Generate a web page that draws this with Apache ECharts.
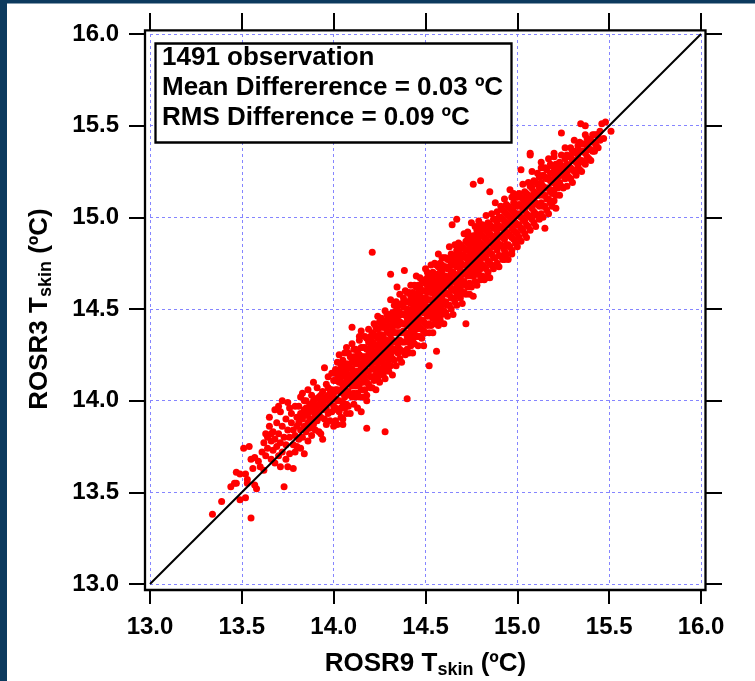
<!DOCTYPE html>
<html><head><meta charset="utf-8">
<script src="https://cdn.jsdelivr.net/npm/echarts/dist/echarts.min.js"></script>
<style>html,body{margin:0;padding:0;background:#fff}#c{width:755px;height:681px}</style>
</head><body><div id="c"></div><script>
const FONT = '"Liberation Sans", Arial, Helvetica, sans-serif';

// axis ticks (both axes)
const tickValues = [13.0, 13.5, 14.0, 14.5, 15.0, 15.5, 16.0];
const oneToOne = [13.0, 16.0];
const infoLines = ['1491 observation', 'Mean Differerence = 0.03 \u00baC', 'RMS Difference = 0.09 \u00baC'];

// [ROSR9, ROSR3] pairs, low end of the cloud
const obsLow = [[13.34,13.38],[13.39,13.45],[13.46,13.55],[13.47,13.55],[13.49,13.46],[13.52,13.47],[13.55,13.36],[13.49,13.60],[13.52,13.60],[13.53,13.57],[13.53,13.55],[13.57,13.54],[13.58,13.52],[13.51,13.74],[13.54,13.75],[13.55,13.68],[13.57,13.69],[13.59,13.67],[13.60,13.64],[13.44,13.53],[13.47,13.61],[13.56,13.63]];
const obs1360 = [[13.62,13.62],[13.61,13.72],[13.62,13.77],[13.63,13.70],[13.64,13.80],[13.65,13.91],[13.65,13.86],[13.64,13.74],[13.66,13.68],[13.66,13.78],[13.67,13.83],[13.67,13.73],[13.68,13.66],[13.68,13.79],[13.69,13.88],[13.69,13.75],[13.70,13.70],[13.70,13.82],[13.71,13.77],[13.71,13.94],[13.72,13.86],[13.72,13.72],[13.73,13.53],[13.73,13.80],[13.74,13.90],[13.74,13.76],[13.75,13.64],[13.75,13.84],[13.75,13.99],[13.76,13.71],[13.76,13.80],[13.77,13.88],[13.77,13.93],[13.78,13.63],[13.78,13.76],[13.78,13.84],[13.79,13.97],[13.79,13.72],[13.80,13.75],[13.80,13.86],[13.80,13.91],[13.70,13.97],[13.72,14.00],[13.68,13.95],[13.66,13.82],[13.63,13.82],[13.74,13.68],[13.76,13.96],[13.71,13.64],[13.79,13.81]];
const obs1380 = [[13.81,13.79],[13.81,13.88],[13.81,13.97],[13.82,13.84],[13.82,13.74],[13.82,14.02],[13.83,14.04],[13.83,13.90],[13.83,13.80],[13.84,13.86],[13.84,13.95],[13.84,13.71],[13.85,13.83],[13.85,13.92],[13.85,14.00],[13.86,13.88],[13.86,13.78],[13.86,14.06],[13.87,13.94],[13.87,13.85],[13.87,13.98],[13.88,13.90],[13.88,13.81],[13.88,14.03],[13.89,14.10],[13.89,13.87],[13.89,13.95],[13.90,13.84],[13.90,13.92],[13.90,14.01],[13.91,13.97],[13.91,13.89],[13.91,14.07],[13.92,13.83],[13.92,13.94],[13.92,14.02],[13.93,13.82],[13.93,13.91],[13.93,13.99],[13.94,13.79],[13.94,14.05],[13.94,13.95],[13.95,14.18],[13.95,13.90],[13.95,14.00],[13.96,13.87],[13.96,13.96],[13.96,14.09],[13.97,13.93],[13.97,14.03],[13.97,14.13],[13.98,13.89],[13.98,13.99],[13.98,14.06],[13.99,13.94],[13.99,14.01],[13.99,14.15],[14.00,13.86],[14.00,13.97],[14.00,14.04],[14.00,14.11],[13.82,13.93],[13.84,14.00],[13.86,13.93],[13.88,13.96],[13.90,13.97],[13.92,13.98],[13.94,14.00],[13.96,14.02],[13.98,14.03],[13.85,13.96],[13.89,14.00],[13.93,14.03],[13.97,14.07],[13.87,13.90],[13.91,13.93],[13.95,13.97],[13.99,14.06]];
// scattered points away from the main band
const obsOutliers = [[14.21,14.81],[14.31,14.69],[14.385,14.71],[14.345,14.62],[14.10,14.40],[14.14,14.35],[14.28,13.83],[14.40,14.01],[14.52,14.19],[14.56,14.27],[14.72,14.42],[14.645,14.96],[14.67,14.99],[14.73,14.92],[14.76,15.18],[14.80,15.20],[14.85,15.14],[14.83,14.67],[14.93,14.77],[14.97,14.80],[15.02,15.26],[15.07,15.34],[15.07,15.35],[15.13,15.30],[15.15,14.94],[15.21,15.05],[15.20,15.35],[15.24,15.46],[15.345,15.51],[15.37,15.50],[15.46,15.51],[15.48,15.52],[15.51,15.47],[14.18,13.85],[14.15,13.94],[14.18,14.00],[14.05,13.90],[14.07,14.29]];

// [ROSR9, [ROSR3 - ROSR9 ...]] : offsets of the points from the 1:1 line
const diff1400 = [[14.01,[-0.12,-0.05,0.00,0.05,0.10,0.16]],[14.02,[-0.15,-0.07,-0.02,0.04,0.12,0.19]],[14.03,[-0.09,-0.03,0.02,0.07,0.13,0.22]],[14.04,[-0.13,-0.08,0.01,0.06,0.09,0.15]],[14.05,[-0.18,-0.06,-0.01,0.03,0.11,0.17]],[14.06,[-0.10,-0.04,0.03,0.08,0.14,0.20]],[14.07,[-0.14,-0.09,-0.02,0.05,0.10,0.13]],[14.08,[-0.11,-0.03,0.02,0.06,0.12,0.18]],[14.09,[-0.16,-0.06,0.00,0.04,0.09,0.15]],[14.10,[-0.08,-0.02,0.04,0.07,0.11,0.21]],[14.11,[-0.13,-0.07,-0.01,0.05,0.13,0.17]],[14.12,[-0.10,-0.04,0.01,0.08,0.12,0.16]],[14.13,[-0.17,-0.09,-0.03,0.03,0.10,0.14]],[14.14,[-0.12,-0.05,0.02,0.06,0.11,0.19]],[14.15,[-0.09,-0.02,0.03,0.09,0.14,0.23]],[14.16,[-0.14,-0.06,0.00,0.05,0.08,0.13]],[14.17,[-0.11,-0.04,0.01,0.07,0.12,0.18]],[14.18,[-0.15,-0.08,-0.02,0.04,0.10,0.16]],[14.19,[-0.10,-0.03,0.02,0.06,0.13,0.20]],[14.20,[-0.13,-0.07,0.00,0.05,0.09,0.15]]];
const diff1420 = [[14.21,[-0.14,-0.08,-0.03,0.02,0.06,0.11,0.16]],[14.22,[-0.11,-0.05,0.00,0.04,0.09,0.14,0.20]],[14.23,[-0.17,-0.09,-0.02,0.03,0.07,0.12,0.17]],[14.24,[-0.12,-0.06,-0.01,0.05,0.10,0.15,0.22]],[14.25,[-0.15,-0.10,-0.04,0.01,0.06,0.11,0.18]],[14.26,[-0.09,-0.04,0.02,0.06,0.10,0.14,0.19]],[14.27,[-0.13,-0.07,-0.02,0.03,0.08,0.13,0.16]],[14.28,[-0.16,-0.11,-0.05,0.00,0.05,0.12,0.21]],[14.29,[-0.10,-0.05,0.01,0.04,0.09,0.15,0.18]],[14.30,[-0.14,-0.08,-0.03,0.02,0.07,0.11,0.17]],[14.31,[-0.12,-0.06,0.00,0.05,0.10,0.14,0.24]],[14.32,[-0.18,-0.09,-0.04,0.01,0.06,0.12,0.16]],[14.33,[-0.11,-0.05,-0.01,0.04,0.08,0.13,0.19]],[14.34,[-0.15,-0.07,-0.02,0.03,0.09,0.15,0.20]],[14.35,[-0.09,-0.04,0.02,0.06,0.11,0.14,0.17]],[14.36,[-0.13,-0.08,-0.03,0.01,0.07,0.12,0.22]],[14.37,[-0.16,-0.10,-0.05,0.00,0.05,0.10,0.16]],[14.38,[-0.11,-0.06,0.00,0.04,0.09,0.13,0.18]],[14.39,[-0.14,-0.07,-0.02,0.03,0.08,0.15,0.21]],[14.40,[-0.12,-0.05,0.01,0.05,0.10,0.14,0.19]]];
const diff1440 = [[14.41,[-0.15,-0.09,-0.04,0.00,0.04,0.08,0.13,0.18]],[14.42,[-0.12,-0.07,-0.02,0.02,0.06,0.11,0.15,0.21]],[14.43,[-0.17,-0.10,-0.05,-0.01,0.03,0.07,0.12,0.16]],[14.44,[-0.13,-0.08,-0.03,0.01,0.05,0.10,0.14,0.19]],[14.45,[-0.10,-0.06,-0.01,0.03,0.07,0.12,0.17,0.23]],[14.46,[-0.16,-0.11,-0.05,0.00,0.04,0.09,0.13,0.17]],[14.47,[-0.12,-0.07,-0.03,0.02,0.06,0.10,0.15,0.20]],[14.48,[-0.14,-0.09,-0.04,0.01,0.05,0.08,0.12,0.18]],[14.49,[-0.19,-0.11,-0.06,-0.01,0.03,0.07,0.11,0.16]],[14.50,[-0.13,-0.08,-0.02,0.02,0.06,0.10,0.14,0.22]],[14.51,[-0.10,-0.05,0.00,0.04,0.08,0.12,0.16,0.19]],[14.52,[-0.15,-0.10,-0.05,-0.01,0.03,0.09,0.13,0.17]],[14.53,[-0.12,-0.07,-0.03,0.02,0.06,0.11,0.15,0.21]],[14.54,[-0.17,-0.09,-0.04,0.00,0.05,0.08,0.12,0.16]],[14.55,[-0.13,-0.08,-0.02,0.03,0.07,0.10,0.14,0.20]],[14.56,[-0.11,-0.06,-0.01,0.01,0.04,0.09,0.13,0.18]],[14.57,[-0.16,-0.10,-0.05,0.00,0.05,0.11,0.16,0.23]],[14.58,[-0.14,-0.08,-0.03,0.02,0.06,0.10,0.14,0.17]],[14.59,[-0.12,-0.07,-0.02,0.03,0.07,0.12,0.15,0.19]],[14.60,[-0.18,-0.11,-0.06,-0.01,0.04,0.08,0.13,0.18]]];
const diff1460 = [[14.61,[-0.13,-0.07,-0.02,0.03,0.07,0.12,0.17]],[14.62,[-0.16,-0.10,-0.04,0.01,0.05,0.10,0.15]],[14.63,[-0.11,-0.05,0.00,0.04,0.09,0.14,0.21]],[14.64,[-0.14,-0.08,-0.03,0.02,0.06,0.11,0.16]],[14.65,[-0.18,-0.09,-0.04,0.00,0.05,0.09,0.13]],[14.66,[-0.12,-0.06,-0.01,0.03,0.08,0.13,0.19]],[14.67,[-0.15,-0.10,-0.05,0.01,0.06,0.10,0.15]],[14.68,[-0.10,-0.04,0.00,0.05,0.09,0.14,0.18]],[14.69,[-0.13,-0.08,-0.02,0.02,0.07,0.11,0.16]],[14.70,[-0.17,-0.11,-0.06,-0.01,0.04,0.09,0.14]],[14.71,[-0.12,-0.06,-0.01,0.03,0.08,0.12,0.20]],[14.72,[-0.14,-0.09,-0.03,0.02,0.06,0.10,0.15]],[14.73,[-0.11,-0.05,0.00,0.04,0.09,0.13,0.17]],[14.74,[-0.16,-0.10,-0.04,0.01,0.05,0.11,0.16]],[14.75,[-0.13,-0.07,-0.02,0.03,0.07,0.12,0.22]],[14.76,[-0.19,-0.08,-0.03,0.02,0.06,0.10,0.14]],[14.77,[-0.12,-0.06,-0.01,0.04,0.08,0.13,0.18]],[14.78,[-0.15,-0.09,-0.04,0.00,0.05,0.09,0.15]],[14.79,[-0.10,-0.05,0.01,0.05,0.10,0.14,0.19]],[14.80,[-0.14,-0.08,-0.03,0.02,0.06,0.11,0.16]]];
const diff1480 = [[14.81,[-0.13,-0.07,-0.01,0.04,0.09,0.15]],[14.82,[-0.16,-0.09,-0.03,0.02,0.07,0.12]],[14.83,[-0.11,-0.05,0.00,0.05,0.10,0.18]],[14.84,[-0.14,-0.08,-0.02,0.03,0.08,0.13]],[14.85,[-0.18,-0.10,-0.04,0.01,0.06,0.11]],[14.86,[-0.12,-0.06,0.00,0.04,0.09,0.16]],[14.87,[-0.15,-0.09,-0.03,0.02,0.07,0.12]],[14.88,[-0.10,-0.04,0.01,0.06,0.11,0.20]],[14.89,[-0.14,-0.07,-0.02,0.03,0.08,0.14]],[14.90,[-0.17,-0.11,-0.05,0.00,0.05,0.10]],[14.91,[-0.12,-0.06,-0.01,0.04,0.09,0.15]],[14.92,[-0.15,-0.08,-0.03,0.02,0.07,0.12]],[14.93,[-0.11,-0.05,0.00,0.05,0.10,0.17]],[14.94,[-0.14,-0.09,-0.02,0.03,0.08,0.13]],[14.95,[-0.18,-0.10,-0.04,0.01,0.06,0.11]],[14.96,[-0.12,-0.06,0.00,0.04,0.09,0.19]],[14.97,[-0.15,-0.08,-0.03,0.02,0.07,0.14]],[14.98,[-0.10,-0.05,0.01,0.05,0.10,0.15]],[14.99,[-0.13,-0.07,-0.02,0.03,0.08,0.12]],[15.00,[-0.16,-0.09,-0.04,0.01,0.06,0.11]]];
const diff1500 = [[15.01,[-0.12,-0.05,0.01,0.06,0.12]],[15.02,[-0.15,-0.08,-0.02,0.04,0.09]],[15.03,[-0.10,-0.04,0.02,0.07,0.15]],[15.04,[-0.13,-0.06,0.00,0.05,0.10]],[15.05,[-0.16,-0.09,-0.03,0.03,0.08]],[15.06,[-0.11,-0.05,0.01,0.06,0.13]],[15.07,[-0.14,-0.07,-0.01,0.04,0.10]],[15.08,[-0.09,-0.03,0.02,0.08,0.17]],[15.09,[-0.12,-0.06,0.00,0.05,0.11]],[15.10,[-0.15,-0.08,-0.02,0.03,0.09]],[15.11,[-0.10,-0.04,0.01,0.07,0.13]],[15.12,[-0.13,-0.06,0.00,0.04,0.10]],[15.13,[-0.11,-0.05,0.02,0.06,0.14]],[15.14,[-0.14,-0.08,-0.02,0.03,0.09]],[15.15,[-0.09,-0.03,0.01,0.07,0.12]],[15.16,[-0.12,-0.06,0.00,0.05,0.10]],[15.17,[-0.15,-0.07,-0.01,0.04,0.15]],[15.18,[-0.10,-0.04,0.02,0.06,0.11]],[15.19,[-0.13,-0.06,0.00,0.05,0.09]],[15.20,[-0.11,-0.05,0.01,0.07,0.13]]];
const diff1520 = [[15.21,[-0.09,-0.03,0.03,0.08]],[15.22,[-0.06,0.00,0.05]],[15.23,[-0.11,-0.04,0.02,0.07]],[15.24,[-0.07,-0.01,0.04,0.10]],[15.25,[-0.09,-0.02,0.03]],[15.26,[-0.05,0.01,0.06,0.12]],[15.27,[-0.10,-0.03,0.02,0.07]],[15.28,[-0.06,0.00,0.05]],[15.29,[-0.08,-0.02,0.04,0.09]],[15.30,[-0.11,-0.04,0.01,0.06]],[15.31,[-0.06,0.00,0.05,0.11]],[15.32,[-0.09,-0.02,0.03]],[15.33,[-0.05,0.01,0.06]],[15.34,[-0.08,-0.03,0.02,0.07]],[15.35,[-0.10,-0.04,0.01,0.05]],[15.36,[-0.06,0.00,0.04]],[15.37,[-0.08,-0.02,0.03,0.08]],[15.38,[-0.05,0.01,0.05]],[15.39,[-0.07,-0.02,0.03]],[15.40,[-0.09,-0.03,0.02]],[15.41,[-0.05,0.00,0.04]],[15.42,[-0.06,-0.01,0.03]],[15.43,[-0.04,0.02]],[15.44,[-0.06,0.01]],[15.45,[-0.03,0.02]],[15.47,[-0.04]]];

const points = [].concat(obsLow, obs1360, obs1380, obsOutliers);
[diff1400, diff1420, diff1440, diff1460, diff1480, diff1500, diff1520].forEach(seg =>
  seg.forEach(([x, ds]) => ds.forEach(d => points.push([x, +(x + d).toFixed(3)]))));

const chart = echarts.init(document.getElementById('c'), null, {renderer: 'canvas'});
const labelStyle = {fontFamily: FONT, fontWeight: 'bold', fontSize: 24, color: '#000'};
const gridLine = {show: true, lineStyle: {color: '#8585ff', width: 1, type: [3, 3]}};
const tickStyle = {color: '#000', width: 2};
const titleRich = {
  a: {fontFamily: FONT, fontWeight: 'bold', fontSize: 26, color: '#000', lineHeight: 30, verticalAlign: 'middle'},
  b: {fontFamily: FONT, fontWeight: 'bold', fontSize: 18, color: '#000', lineHeight: 18, padding: [13, 0, 0, 0], verticalAlign: 'middle'}
};
const fmt = v => v.toFixed(1);
const mn = tickValues[0], mx = tickValues[tickValues.length - 1], step = tickValues[1] - tickValues[0];

const option = {
  animation: false,
  backgroundColor: '#ffffff',
  grid: {left: 150, right: 54, top: 34, bottom: 97, containLabel: false, outerBoundsMode: 'none'},
  xAxis: [
    {type: 'value', min: mn, max: mx, interval: step, position: 'bottom', offset: 5,
     axisLine: {show: false}, axisTick: {show: true, length: 15, lineStyle: tickStyle},
     axisLabel: Object.assign({margin: 26, formatter: fmt}, labelStyle),
     splitLine: gridLine,
     name: '{a|ROSR9 T}{b|skin}{a| (\u00baC)}', nameLocation: 'middle', nameGap: 60,
     nameTextStyle: {rich: titleRich}},
    {type: 'value', min: mn, max: mx, interval: step, position: 'top', offset: 4,
     axisLine: {show: false}, axisTick: {show: true, length: 17, lineStyle: tickStyle},
     axisLabel: {show: false}, splitLine: {show: false}}
  ],
  yAxis: [
    {type: 'value', min: mn, max: mx, interval: step, position: 'left', offset: 5,
     axisLine: {show: false}, axisTick: {show: true, length: 16, lineStyle: tickStyle},
     axisLabel: Object.assign({margin: 26, formatter: fmt}, labelStyle),
     splitLine: gridLine,
     name: '{a|ROSR3 T}{b|skin}{a| (\u00baC)}', nameLocation: 'middle', nameRotate: 90, nameGap: 90,
     nameTextStyle: {rich: titleRich}},
    {type: 'value', min: mn, max: mx, interval: step, position: 'right', offset: 5,
     axisLine: {show: false}, axisTick: {show: true, length: 16, lineStyle: tickStyle},
     axisLabel: {show: false}, splitLine: {show: false}}
  ],
  series: [
    {type: 'scatter', data: points, symbol: 'circle', symbolSize: 7,
     itemStyle: {color: '#ff0000', opacity: 1}, z: 2, silent: true},
    {type: 'line', data: oneToOne.map(v => [v, v]), symbol: 'none',
     lineStyle: {color: '#000', width: 2}, z: 3, silent: true}
  ],
  graphic: [
    {type: 'rect', shape: {x: 0, y: 0, width: 7, height: 681}, style: {fill: '#0c3a5e'}, z: 100, silent: true},
    {type: 'rect', shape: {x: 0, y: 0, width: 755, height: 3.5}, style: {fill: '#0c3a5e'}, z: 100, silent: true},
    {type: 'rect', shape: {x: 145, y: 30.3, width: 560.5, height: 559.7},
     style: {fill: 'none', stroke: '#000', lineWidth: 2.3}, z: 50, silent: true},
    {type: 'rect', shape: {x: 155.5, y: 43.5, width: 356, height: 99},
     style: {fill: '#fff', stroke: '#000', lineWidth: 2.3}, z: 60, silent: true},
    {type: 'text', x: 162, y: 58, style: {text: infoLines[0], font: 'bold 26px ' + FONT, fill: '#000', verticalAlign: 'middle'}, z: 61, silent: true},
    {type: 'text', x: 162, y: 88, style: {text: infoLines[1], font: 'bold 26px ' + FONT, fill: '#000', verticalAlign: 'middle'}, z: 61, silent: true},
    {type: 'text', x: 162, y: 117.5, style: {text: infoLines[2], font: 'bold 26px ' + FONT, fill: '#000', verticalAlign: 'middle'}, z: 61, silent: true}
  ]
};
chart.setOption(option);
</script></body></html>
